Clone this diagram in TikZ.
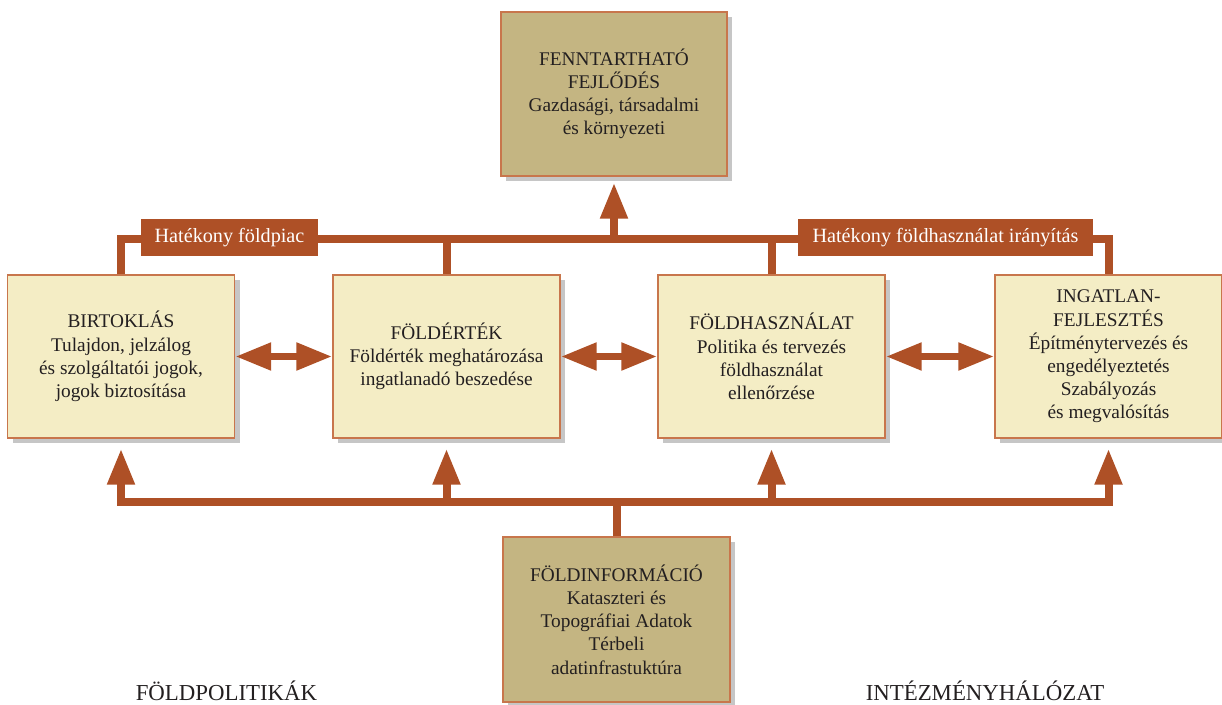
\documentclass[tikz,border=0pt]{standalone}
\usepackage{fontspec}
\setmainfont{Liberation Serif}
\usetikzlibrary{arrows.meta}
\usetikzlibrary{shadows}

\definecolor{rozsda}{RGB}{174,80,38}
\definecolor{keret}{RGB}{200,118,76}
\definecolor{halvany}{RGB}{244,237,197}
\definecolor{okker}{RGB}{196,181,130}
\definecolor{betu}{RGB}{35,31,32}

\begin{document}
\begin{tikzpicture}[x=0.02cm,y=-0.02cm,
    doboz/.style={draw=keret,line width=0.8pt,text=betu,align=center,
      minimum width=4.54cm,minimum height=3.26cm,
      font=\fontsize{11}{13.2}\selectfont,
      drop shadow={shadow xshift=3pt,shadow yshift=-3pt,opacity=0.45}},
    vilagos/.style={doboz,fill=halvany},
    sotet/.style={doboz,fill=okker},
    cimke/.style={fill=rozsda,text=white,minimum height=0.74cm,inner xsep=8pt,
      font=\fontsize{11.5}{13}\selectfont},
    vonal/.style={draw=rozsda,line width=0.16cm},
    hegy/.style={vonal,arrows={-Triangle[width=0.52cm,length=0.72cm]}},
    ketheg/.style={vonal,arrows={Triangle[width=0.52cm,length=0.72cm]-Triangle[width=0.52cm,length=0.72cm]}}]
    \useasboundingbox (0,0) rectangle (1222,705);

    % dobozok
    \node [sotet,minimum width=4.52cm,minimum height=3.28cm] (fenn) at (614,94)
      {FENNTARTHATÓ\\FEJLŐDÉS\\Gazdasági, társadalmi\\és környezeti};
    \node [vilagos] (birt) at (121,356.5)
      {BIRTOKLÁS\\Tulajdon, jelzálog\\és szolgáltatói jogok,\\jogok biztosítása};
    \node [vilagos] (foldert) at (446.5,356.5)
      {FÖLDÉRTÉK\\Földérték meghatározása\\ingatlanadó beszedése};
    \node [vilagos] (foldhaszn) at (771.5,356.5)
      {FÖLDHASZNÁLAT\\Politika és tervezés\\földhasználat\\ellenőrzése};
    \node [vilagos] (ingat) at (1108.5,356.5)
      {INGATLAN-\\FEJLESZTÉS\\Építménytervezés és\\engedélyeztetés\\Szabályozás\\és megvalósítás};
    \node [sotet,minimum height=3.3cm] (foldinfo) at (616.5,619.5)
      {FÖLDINFORMÁCIÓ\\Kataszteri és\\Topográfiai Adatok\\Térbeli\\adatinfrastuktúra};

    \coordinate (fent) at (0,239);
    \coordinate (lent) at (0,502);

    % felso gyujtovonal
    \draw [vonal] (birt.north) -- (birt.north |- fent) -- (ingat.north |- fent) -- (ingat.north);
    \draw [vonal] (foldert.north |- fent) -- (foldert.north);
    \draw [vonal] (foldhaszn.north |- fent) -- (foldhaszn.north);
    \draw [hegy,shorten >=0.12cm] (fenn.south |- fent) -- (fenn.south);

    \node [cimke] (piac) at (229.5,237.5) {Hatékony földpiac};
    \node [cimke] (iranyit) at (945.5,237.5) {Hatékony földhasználat irányítás};

    % also elosztovonal
    \draw [ketheg,shorten <=0.2cm,shorten >=0.2cm] (birt.south) -- (birt.south |- lent) -- (ingat.south |- lent) -- (ingat.south);
    \draw [hegy,shorten >=0.2cm] (foldert.south |- lent) -- (foldert.south);
    \draw [hegy,shorten >=0.2cm] (foldhaszn.south |- lent) -- (foldhaszn.south);
    \draw [vonal] (foldinfo.north) -- (foldinfo.north |- lent);

    % kolcsonos kapcsolatok
    \draw [ketheg] (birt.east) -- (foldert.west);
    \draw [ketheg] (foldert.east) -- (foldhaszn.west);
    \draw [ketheg] (foldhaszn.east) -- (ingat.west);

    \node [anchor=base,text=betu,font=\fontsize{13}{15}\selectfont,inner sep=0pt] (politika) at (226.5,700) {FÖLDPOLITIKÁK};
    \node [anchor=base,text=betu,font=\fontsize{13}{15}\selectfont,inner sep=0pt] (intezmeny) at (985,700) {INTÉZMÉNYHÁLÓZAT};
  \end{tikzpicture}
\end{document}
